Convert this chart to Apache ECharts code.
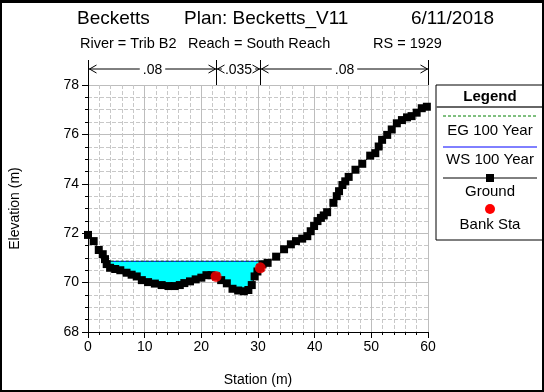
<!DOCTYPE html>
<html>
<head>
<meta charset="utf-8">
<script src="https://cdn.jsdelivr.net/npm/echarts@6/dist/echarts.min.js"></script>
<style>
html, body { margin: 0; padding: 0; background: #fff; }
#wrap { position: relative; width: 544px; height: 392px; }
#chart { width: 544px; height: 392px; }
#frame { position: absolute; left: 0; top: 0; width: 544px; height: 392px; box-sizing: border-box;
         border: 2px solid #000; border-top-width: 3px; pointer-events: none; }
</style>
</head>
<body>
<div id="wrap"><div id="chart"></div><div id="frame"></div></div>
<script>
// Cross section RS 1929 - ground survey (station, elevation in m)
const stations = [
  0, 1.0, 1.9, 2.6, 3.0, 3.3, 3.9, 4.8, 5.7, 6.8, 7.7, 8.6, 9.5, 10.6, 11.8, 13.0, 14.2, 15.3,
  16.2, 17.0, 18.0, 19.0, 20.0, 20.9, 21.8, 22.6, 23.5, 24.5, 25.5, 26.5, 27.5, 28.3, 28.9, 29.4,
  29.9, 30.4, 30.8, 31.7, 33.2, 34.6, 35.8, 36.7, 37.8, 38.7, 39.3, 39.9, 40.5, 41.1, 41.6, 42.2,
  43.3, 43.9, 44.3, 44.9, 45.4, 46.0, 47.2, 48.4, 49.8, 50.7, 51.3, 51.9, 52.8, 53.6, 54.5, 55.4,
  56.3, 57.1, 58.0, 58.9, 59.8
];
const elevations = [
  71.93, 71.68, 71.32, 71.15, 70.95, 70.75, 70.6, 70.55, 70.5, 70.4, 70.32, 70.25, 70.1, 70.02, 69.96, 69.9, 69.86, 69.86,
  69.9, 69.98, 70.05, 70.13, 70.2, 70.3, 70.3, 70.25, 70.1, 69.97, 69.75, 69.68, 69.65, 69.7, 69.9, 70.25,
  70.45, 70.6, 70.74, 70.8, 71.05, 71.35, 71.55, 71.68, 71.78, 71.88, 72.08, 72.29, 72.49, 72.62, 72.72, 72.85,
  73.23, 73.5, 73.7, 73.95, 74.1, 74.28, 74.57, 74.81, 75.14, 75.24, 75.51, 75.78, 75.98, 76.2, 76.45, 76.58,
  76.69, 76.74, 76.88, 77.06, 77.12
];
const bankStations = [22.6, 30.4];
const bankElevations = [70.25, 70.6];
const wsElevation = 70.86;   // WS 100 Year
const egElevation = 70.87;   // EG 100 Year
const nBreaks = [0, 22.6, 30.4, 60];
const nValues = ['.08', '.035', '.08'];
const xTicks = { min: 0, max: 60, step: 10 };
const yTicks = { min: 68, max: 78, step: 2 };

const FONT = "Arial, 'Liberation Sans', sans-serif";

// Wetted section: where the water surface cuts the ground line
function waterSection(ws) {
  const pts = [];
  let inside = false, lx = null, rx = null;
  for (let i = 1; i < stations.length; i++) {
    const x0 = stations[i - 1], y0 = elevations[i - 1], x1 = stations[i], y1 = elevations[i];
    if (!inside && y0 >= ws && y1 < ws) {
      const t = (y0 - ws) / (y0 - y1);
      lx = x0 + t * (x1 - x0);
      pts.push([lx, ws]);
      inside = true;
    }
    if (inside) {
      if (y1 < ws) pts.push([x1, y1]);
      else {
        const t = (ws - y0) / (y1 - y0);
        rx = x0 + t * (x1 - x0);
        pts.push([rx, ws]);
        break;
      }
    }
  }
  return { pts, lx, rx };
}
const water = waterSection(wsElevation);

const measureCtx = document.createElement('canvas').getContext('2d');
function textWidth(str, font) { measureCtx.font = font; return measureCtx.measureText(str).width; }

const chart = echarts.init(document.getElementById('chart'), null, { renderer: 'canvas' });

const axisCommon = {
  type: 'value',
  axisLine: { show: true, onZero: false, lineStyle: { color: '#000', width: 1 } },
  axisTick: { show: true, length: 6, lineStyle: { color: '#000', width: 1 } },
  minorTick: { show: true, length: 3, lineStyle: { color: '#000', width: 1 } },
  splitLine: { show: true, lineStyle: { color: '#bdbdbd', width: 1 } },
  minorSplitLine: { show: true, lineStyle: { color: '#c8c8c8', width: 1, type: [4, 2] } },
  axisLabel: { color: '#000', fontSize: 14, fontFamily: FONT },
  nameLocation: 'middle',
  nameTextStyle: { color: '#000', fontSize: 14, fontFamily: FONT }
};

const legendItems = [
  { type: 'rect', shape: { x: 436, y: 85, width: 112, height: 155 }, style: { fill: '#fff', stroke: '#000', lineWidth: 1 } },
  { type: 'line', shape: { x1: 436, y1: 107, x2: 548, y2: 107 }, style: { stroke: '#666', lineWidth: 2 } },
  { type: 'text', style: { text: 'Legend', x: 490, y: 97, align: 'center', verticalAlign: 'middle', font: 'bold 15px ' + FONT, fill: '#000' } },
  { type: 'line', shape: { x1: 443, y1: 116, x2: 537, y2: 116 }, style: { stroke: '#008000', lineWidth: 1, lineDash: [3, 2] } },
  { type: 'text', style: { text: 'EG 100 Year', x: 490, y: 131, align: 'center', verticalAlign: 'middle', font: '15px ' + FONT, fill: '#000' } },
  { type: 'line', shape: { x1: 443, y1: 147, x2: 537, y2: 147 }, style: { stroke: '#0000ff', lineWidth: 1 } },
  { type: 'text', style: { text: 'WS 100 Year', x: 490, y: 160, align: 'center', verticalAlign: 'middle', font: '15px ' + FONT, fill: '#000' } },
  { type: 'line', shape: { x1: 443, y1: 178, x2: 537, y2: 178 }, style: { stroke: '#000', lineWidth: 1 } },
  { type: 'rect', shape: { x: 486, y: 174, width: 8, height: 8 }, style: { fill: '#000' } },
  { type: 'text', style: { text: 'Ground', x: 490, y: 192, align: 'center', verticalAlign: 'middle', font: '15px ' + FONT, fill: '#000' } },
  { type: 'circle', shape: { cx: 490, cy: 209, r: 5 }, style: { fill: '#ff0000' } },
  { type: 'text', style: { text: 'Bank Sta', x: 490, y: 225, align: 'center', verticalAlign: 'middle', font: '15px ' + FONT, fill: '#000' } }
];

const titleItems = [
  { type: 'text', style: { text: 'Becketts', x: 77, y: 19, verticalAlign: 'middle', font: '19px ' + FONT, fill: '#000' } },
  { type: 'text', style: { text: 'Plan: Becketts_V11', x: 184, y: 19, verticalAlign: 'middle', font: '19px ' + FONT, fill: '#000' } },
  { type: 'text', style: { text: '6/11/2018', x: 411, y: 19, verticalAlign: 'middle', font: '19px ' + FONT, fill: '#000' } },
  { type: 'text', style: { text: 'River = Trib B2', x: 80, y: 44, verticalAlign: 'middle', font: '14.5px ' + FONT, fill: '#000' } },
  { type: 'text', style: { text: 'Reach = South Reach', x: 188, y: 44, verticalAlign: 'middle', font: '14.5px ' + FONT, fill: '#000' } },
  { type: 'text', style: { text: 'RS = 1929', x: 373, y: 44, verticalAlign: 'middle', font: '14.5px ' + FONT, fill: '#000' } }
];

// Manning's n breaks drawn above the plot frame
function renderManning(params, api) {
  const top = api.coord([xTicks.min, yTicks.max])[1];
  const ay = top - 16;
  const font = '14px ' + FONT;
  const children = [];
  nBreaks.forEach(function (s) {
    const x = Math.round(api.coord([s, yTicks.max])[0]) + 0.5;
    children.push({ type: 'line', shape: { x1: x, y1: top - 25, x2: x, y2: top }, style: { stroke: '#000', lineWidth: 1 } });
  });
  for (let i = 0; i < nValues.length; i++) {
    const xl = Math.round(api.coord([nBreaks[i], yTicks.max])[0]) + 0.5;
    const xr = Math.round(api.coord([nBreaks[i + 1], yTicks.max])[0]) + 0.5;
    const mid = (xl + xr) / 2;
    const w = textWidth(nValues[i], font);
    const gapL = Math.max(xl, mid - w / 2 - 3);
    const gapR = Math.min(xr, mid + w / 2 + 3);
    children.push({ type: 'line', shape: { x1: xl, y1: ay, x2: gapL, y2: ay }, style: { stroke: '#000', lineWidth: 1 } });
    children.push({ type: 'line', shape: { x1: gapR, y1: ay, x2: xr, y2: ay }, style: { stroke: '#000', lineWidth: 1 } });
    children.push({ type: 'polyline', shape: { points: [[xl + 8, ay - 4], [xl + 1, ay], [xl + 8, ay + 4]] }, style: { stroke: '#000', lineWidth: 1, fill: null } });
    children.push({ type: 'polyline', shape: { points: [[xr - 8, ay - 4], [xr - 1, ay], [xr - 8, ay + 4]] }, style: { stroke: '#000', lineWidth: 1, fill: null } });
    children.push({ type: 'text', style: { text: nValues[i], x: mid, y: ay + 1, align: 'center', verticalAlign: 'middle', font: font, fill: '#000' } });
  }
  return { type: 'group', children: children };
}

chart.setOption({
  animation: false,
  backgroundColor: '#fff',
  grid: { left: 86, top: 85, width: 342, height: 248, containLabel: false },
  xAxis: Object.assign({}, axisCommon, {
    min: xTicks.min, max: xTicks.max, interval: xTicks.step,
    minorTick: Object.assign({}, axisCommon.minorTick, { splitNumber: 5 }),
    axisLabel: Object.assign({}, axisCommon.axisLabel, { margin: 8 }),
    name: 'Station (m)', nameGap: 41
  }),
  yAxis: Object.assign({}, axisCommon, {
    min: yTicks.min, max: yTicks.max, interval: yTicks.step,
    minorTick: Object.assign({}, axisCommon.minorTick, { splitNumber: 4 }),
    axisLabel: Object.assign({}, axisCommon.axisLabel, { margin: 9 }),
    name: 'Elevation (m)', nameGap: 66
  }),
  graphic: titleItems.concat(legendItems),
  series: [
    {
      type: 'custom', z: 1, silent: true,
      data: [[0, 0]],
      renderItem: function (params, api) {
        return { type: 'polygon', shape: { points: water.pts.map(function (p) { return api.coord(p); }) }, style: { fill: '#00ffff' } };
      }
    },
    {
      type: 'line', z: 2, symbol: 'none', silent: true,
      data: [[water.lx, wsElevation], [water.rx, wsElevation]],
      lineStyle: { color: '#0000ff', width: 1 }
    },
    {
      type: 'line', z: 3, symbol: 'none', silent: true,
      data: [[water.lx, egElevation], [water.rx, egElevation]],
      lineStyle: { color: '#008000', width: 1, type: [3, 2] }
    },
    {
      type: 'line', z: 4, silent: true,
      data: stations.map(function (s, i) { return [s, elevations[i]]; }),
      symbol: 'rect', symbolSize: 8, showAllSymbol: true,
      lineStyle: { color: '#000', width: 1 },
      itemStyle: { color: '#000' }
    },
    {
      type: 'scatter', z: 5, silent: true,
      data: bankStations.map(function (s, i) { return [s, bankElevations[i]]; }),
      symbol: 'circle', symbolSize: 11,
      itemStyle: { color: '#ff0000' }
    },
    {
      type: 'custom', z: 6, silent: true, clip: false,
      data: [[0, 0]],
      renderItem: renderManning
    }
  ]
});
</script>
</body>
</html>
